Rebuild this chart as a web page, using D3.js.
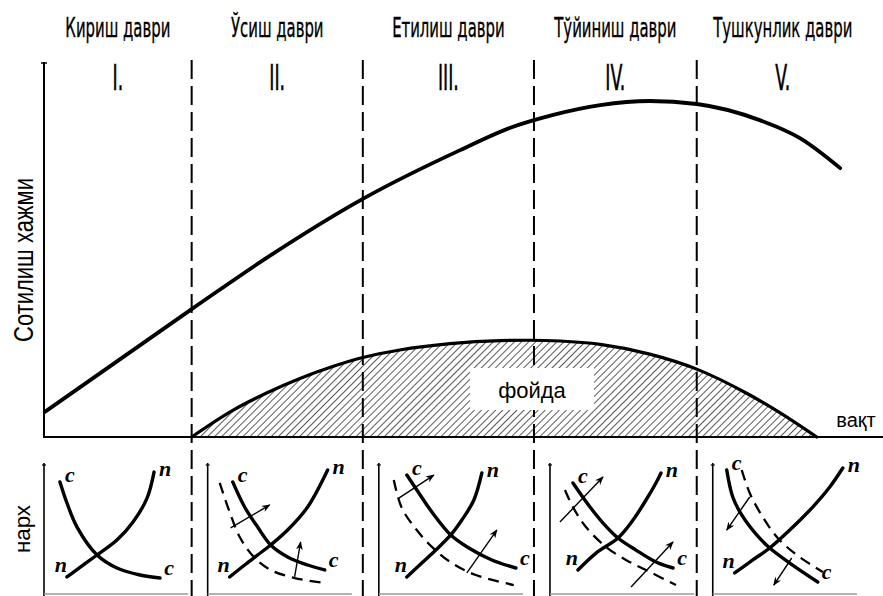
<!DOCTYPE html>
<html><head><meta charset="utf-8">
<script src="https://cdn.jsdelivr.net/npm/d3@7"></script>
<style>body{margin:0;background:#fff}svg{display:block}</style>
</head><body>
<svg id="c" width="883" height="596"></svg>
<script>
// ---------- DATA ----------
const stageNames = ["Кириш даври","Ўсиш даври","Етилиш даври","Тўйиниш даври","Тушкунлик даври"];
const stageNumerals = ["I.","II.","III.","IV.","V."];
const stageBounds = [0, 17.6, 38.0, 58.4, 77.8, 98.3];           // time units
const salesTime  = [0.1, 17.6, 26.9, 38.0, 49.6, 55.5, 60.7, 66.3, 72.2, 77.8, 85.3, 90.1, 94.9];
const salesValue = [6.7, 34.1, 48.3, 63.5, 76.5, 82.4, 85.9, 88.5, 89.6, 88.8, 84.5, 79.7, 71.7];
const profitTime  = [17.6, 22.5, 26.6, 30.5, 34.4, 38.0, 42.4, 48.4, 54.4, 57.9, 61.5, 66.3, 72.2, 77.8, 83.8, 87.7, 92.1];
const profitValue = [0, 7.1, 11.8, 15.6, 18.8, 21.2, 23.2, 24.9, 25.7, 25.8, 25.6, 24.7, 22.1, 18.1, 11.6, 6.5, 0];
const yLabel = "Сотилиш хажми";
const xLabel = "вақт";
const profitLabel = "фойда";
const priceLabel = "нарх";
const demandLetter = "с";
const supplyLetter = "п";

// small price panels: [quantity, price] in 0..10 units
const panelDemand = [
  [[1.14,8.62],[1.64,7.0],[2.36,5.15],[3.79,3.0],[5.21,2.0],[6.86,1.46],[8.29,1.23]],
  [[1.79,8.62],[2.64,6.69],[3.57,5.15],[4.5,3.77],[5.71,2.85],[7.14,2.23],[8.36,1.85]],
  [[2.0,9.15],[2.86,7.77],[3.79,6.31],[5.14,4.54],[6.43,3.54],[8.07,2.62],[9.79,2.0]],
  [[1.64,8.54],[2.86,6.69],[3.79,5.46],[4.86,4.31],[6.14,3.38],[7.57,2.46],[8.79,2.0]],
  [[1.0,9.54],[1.43,7.46],[2.07,6.08],[3.14,4.54],[4.07,3.54],[5.5,2.38],[7.5,0.92]]
];
const panelDemandShift = [
  [],
  [[0.86,8.54],[1.57,6.31],[2.29,4.38],[3.36,2.77],[4.5,1.85],[6.21,1.23],[8.36,0.85]],
  [[1.07,8.77],[1.64,6.62],[2.71,4.92],[3.79,3.62],[5.21,2.38],[6.93,1.46],[9.64,0.69]],
  [[1.07,8.0],[1.64,6.69],[2.57,5.15],[4.0,3.62],[5.43,2.62],[7.14,1.69],[9.0,0.69]],
  [[2.07,9.54],[2.64,7.77],[3.57,5.92],[4.64,4.31],[6.0,3.0],[7.86,1.69]]
];
const panelSupply = [
  [[1.64,1.31],[2.79,2.23],[3.79,3.0],[5.21,4.15],[6.36,5.54],[7.36,7.38],[7.86,9.38]],
  [[1.57,1.31],[2.64,2.23],[3.57,3.0],[4.5,3.77],[5.71,4.92],[7.14,6.69],[8.57,9.54]],
  [[2.0,1.31],[3.07,2.38],[4.07,3.38],[5.14,4.54],[5.93,5.69],[6.79,7.23],[7.36,9.31]],
  [[2.0,1.85],[3.29,3.15],[4.86,4.31],[5.93,5.69],[6.86,7.23],[7.57,8.54],[7.93,9.31]],
  [[1.57,1.62],[2.86,2.62],[4.07,3.54],[5.5,4.92],[7.14,6.69],[8.36,8.23],[9.29,9.69]]
];
const panelArrows = [
  [],
  [[[1.64,5.08],[4.43,6.85]], [[6.21,1.31],[6.64,4.0]]],
  [[[1.43,7.38],[3.93,9.15]], [[6.29,1.62],[8.43,4.92]]],
  [[[0.71,5.54],[3.79,9.0]], [[5.79,0.54],[8.79,4.0]]],
  [[[2.64,7.46],[1.0,4.92]], [[5.64,2.77],[4.36,0.69]]]
];

// ---------- DRAW ----------
const svg = d3.select("#c");
const x = d3.scaleLinear().domain([0,100]).range([44,883]);
const y = d3.scaleLinear().domain([0,100]).range([437,62]);

const defs = svg.append("defs");
const pat = defs.append("pattern").attr("id","hatch").attr("patternUnits","userSpaceOnUse")
  .attr("width",5).attr("height",10).attr("patternTransform","rotate(45)");
pat.append("line").attr("x1",0).attr("y1",0).attr("x2",0).attr("y2",10)
  .attr("stroke","#000").attr("stroke-width",1.3);
defs.append("marker").attr("id","arr").attr("viewBox","0 0 10 8").attr("refX",9).attr("refY",4)
  .attr("markerWidth",9).attr("markerHeight",7).attr("markerUnits","userSpaceOnUse").attr("orient","auto")
  .append("path").attr("d","M0,0 L10,4 L0,8 L3,4 z").attr("fill","#000");

const sales = salesTime.map((t,i)=>[t, salesValue[i]]);
const profit = profitTime.map((t,i)=>[t, profitValue[i]]);

// hatched profit area
svg.append("path").datum(profit)
  .attr("d", d3.area().x(d=>x(d[0])).y0(y(0)).y1(d=>y(d[1])).curve(d3.curveMonotoneX))
  .attr("fill","url(#hatch)");

// main axes
svg.append("line").attr("x1",x(0)).attr("x2",x(0)).attr("y1",y(0)+1).attr("y2",62)
  .attr("stroke","#000").attr("stroke-width",2);
svg.append("line").attr("x1",x(0)-3).attr("x2",x(0)+3).attr("y1",63).attr("y2",63)
  .attr("stroke","#000").attr("stroke-width",1.5);
svg.append("line").attr("x1",x(0)).attr("x2",883).attr("y1",y(0)).attr("y2",y(0))
  .attr("stroke","#000").attr("stroke-width",2.2);

// dashed stage boundaries
svg.append("g").selectAll("line").data(stageBounds.slice(1,5)).join("line")
  .attr("x1",d=>x(d)).attr("x2",d=>x(d)).attr("y1",60).attr("y2",596)
  .attr("stroke","#000").attr("stroke-width",2).attr("stroke-dasharray","19,7");

// curves
const line = d3.line().x(d=>x(d[0])).y(d=>y(d[1])).curve(d3.curveMonotoneX);
svg.append("path").datum(sales).attr("d",line).attr("fill","none")
  .attr("stroke","#000").attr("stroke-width",3.8).attr("stroke-linecap","round");
svg.append("path").datum(profit).attr("d",line).attr("fill","none")
  .attr("stroke","#000").attr("stroke-width",3.2).attr("stroke-linecap","round");

// profit label with white box
const pcx = 532, pcy = 389;
svg.append("rect").attr("x",pcx-62).attr("y",pcy-21).attr("width",124).attr("height",42).attr("fill","#fff");
svg.append("text").attr("x",pcx).attr("y",pcy+9).attr("text-anchor","middle")
  .style("font-family","'Liberation Sans',Arial,sans-serif").style("font-size","22px").text(profitLabel);

// x label
svg.append("text").attr("x",856).attr("y",427).attr("text-anchor","middle")
  .style("font-family","'Liberation Sans',Arial,sans-serif").style("font-size","20px").text(xLabel);

// y label
svg.append("text").attr("transform","translate(33,260) rotate(-90)").attr("text-anchor","middle")
  .attr("textLength",164).attr("lengthAdjust","spacingAndGlyphs")
  .style("font-family","'Liberation Sans',Arial,sans-serif").style("font-size","27px").text(yLabel);

// stage titles (condensed by horizontal scaling)
const narrow = "'Liberation Sans Narrow','DejaVu Sans Condensed','Arial Narrow',sans-serif";
const mid = i => (x(stageBounds[i]) + x(stageBounds[i+1]))/2;
const titles = svg.append("g").selectAll("text").data(stageNames).join("text")
  .attr("text-anchor","middle")
  .style("font-family",narrow).style("font-size","26px")
  .style("stroke","#000").style("stroke-width","0.35px").text(d=>d);
const k1 = 105 / titles.node().getComputedTextLength();
titles.attr("transform",(d,i)=>`translate(${mid(i)},37) scale(${k1},1)`);

const nums = svg.append("g").selectAll("text").data(stageNumerals).join("text")
  .attr("text-anchor","middle")
  .style("font-family",narrow).style("font-size","35px")
  .style("stroke","#000").style("stroke-width","0.6px").text(d=>d);
const k2 = 20 / nums.nodes()[3].getComputedTextLength();
nums.attr("transform",(d,i)=>`translate(${mid(i)},90) scale(${k2},1)`);

// price label
svg.append("text").attr("transform","translate(30,529) rotate(-90)").attr("text-anchor","middle")
  .attr("textLength",48).attr("lengthAdjust","spacingAndGlyphs")
  .style("font-family","'Liberation Sans',Arial,sans-serif").style("font-size","22px").text(priceLabel);

// panels
const letterFont = "'Liberation Serif','DejaVu Serif',serif";
panelDemand.forEach((dem,i)=>{
  const left = i===0 ? x(0) : x(stageBounds[i]) + 16;
  const px = d3.scaleLinear().domain([0,10]).range([left,left+140]);
  const py = d3.scaleLinear().domain([0,10]).range([594,464]);
  const g = svg.append("g");
  const pl = d3.line().x(d=>px(d[0])).y(d=>py(d[1])).curve(d3.curveCatmullRom);
  g.append("line").attr("x1",px(0)).attr("x2",px(0)).attr("y1",py(0)+2).attr("y2",py(10)-1)
    .attr("stroke","#000").attr("stroke-width",1.6);
  g.append("line").attr("x1",px(0)-2).attr("x2",px(0)+2).attr("y1",py(10)+1).attr("y2",py(10)+1)
    .attr("stroke","#000").attr("stroke-width",1.2);
  g.append("line").attr("x1",px(0)).attr("x2",px(10.3)).attr("y1",py(0)).attr("y2",py(0))
    .attr("stroke","#999").attr("stroke-width",1.4);
  if (panelDemandShift[i].length)
    g.append("path").datum(panelDemandShift[i]).attr("d",pl).attr("fill","none")
      .attr("stroke","#000").attr("stroke-width",2.3).attr("stroke-dasharray","11,7");
  g.append("path").datum(dem).attr("d",pl).attr("fill","none")
    .attr("stroke","#000").attr("stroke-width",3.4).attr("stroke-linecap","round");
  g.append("path").datum(panelSupply[i]).attr("d",pl).attr("fill","none")
    .attr("stroke","#000").attr("stroke-width",3.4).attr("stroke-linecap","round");
  g.selectAll(".arr").data(panelArrows[i]).join("line").attr("class","arr")
    .attr("x1",d=>px(d[0][0])).attr("y1",d=>py(d[0][1]))
    .attr("x2",d=>px(d[1][0])).attr("y2",d=>py(d[1][1]))
    .attr("stroke","#000").attr("stroke-width",1.4).attr("marker-end","url(#arr)");
  const sup = panelSupply[i];
  const labels = [
    {t:demandLetter, p:dem[0], dx:10, dy:-6},
    {t:supplyLetter, p:sup[sup.length-1], dx:11, dy:-2},
    {t:supplyLetter, p:sup[0], dx:-6, dy:-11},
    {t:demandLetter, p:dem[dem.length-1], dx:9, dy:-9}
  ];
  g.selectAll(".lab").data(labels).join("text").attr("class","lab")
    .attr("x",d=>px(d.p[0])+d.dx).attr("y",d=>py(d.p[1])+d.dy+6)
    .attr("text-anchor","middle")
    .style("font-family",letterFont).style("font-style","italic").style("font-weight","bold")
    .style("font-size","22px")
    .text(d=>d.t);
});
</script>
</body></html>
